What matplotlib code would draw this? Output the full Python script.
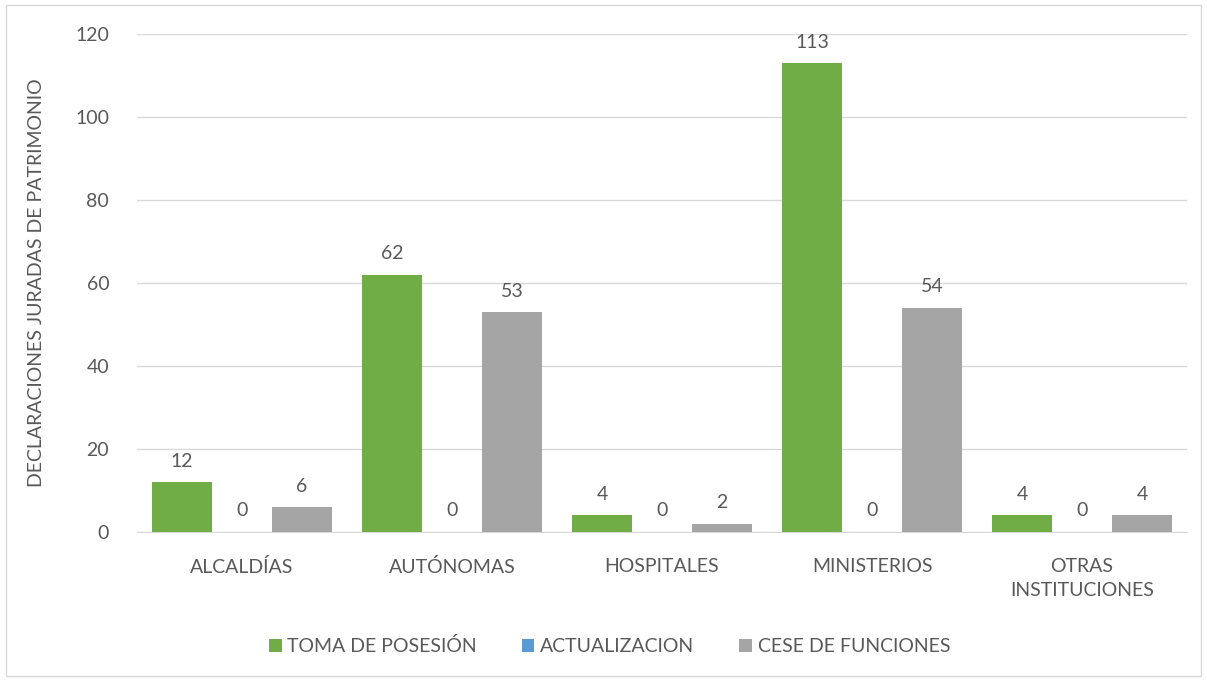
import matplotlib.pyplot as plt
import numpy as np
from matplotlib.patches import Rectangle

# Datos
categorias = ['ALCALDÍAS', 'AUTÓNOMAS', 'HOSPITALES', 'MINISTERIOS', 'OTRAS\nINSTITUCIONES']
toma_posesion = [12, 62, 4, 113, 4]
actualizacion = [0, 0, 0, 0, 0]
cese_funciones = [6, 53, 2, 54, 4]
series = ['TOMA DE POSESIÓN', 'ACTUALIZACION', 'CESE DE FUNCIONES']
colores = ['#70AD47', '#5B9BD5', '#A5A5A5']

plt.rcParams['font.family'] = ['Lato', 'DejaVu Sans']
texto = '#595959'
fs = 14

fig = plt.figure(figsize=(12.07, 6.81), dpi=100)
ax = fig.add_axes([0.1135, 0.2188, 0.87, 0.7312])

x = np.arange(len(categorias))
ancho = 0.2857
for i, (vals, nombre, c) in enumerate(zip([toma_posesion, actualizacion, cese_funciones], series, colores)):
    barras = ax.bar(x + (i - 1) * ancho, vals, ancho, color=c, label=nombre, zorder=3)
    ax.bar_label(barras, padding=9, fontsize=fs, color=texto)

ax.set_xlim(-0.5, len(categorias) - 0.5)
ax.set_ylim(0, 120)
ax.set_yticks(range(0, 121, 20))
ax.set_xticks(x)
ax.set_xticklabels(categorias, fontsize=fs, color=texto, linespacing=1.45)
ax.tick_params(axis='y', labelsize=fs, colors=texto, length=0, pad=20)
ax.tick_params(axis='x', length=0, pad=19)
ax.grid(axis='y', color='#D9D9D9', linewidth=1, zorder=0)
for s in ['top', 'right', 'left']:
    ax.spines[s].set_visible(False)
ax.spines['bottom'].set_color('#D9D9D9')
ax.set_ylabel('DECLARACIONES JURADAS DE PATRIMONIO', fontsize=fs, color=texto, labelpad=22)

fig.legend(loc='center', bbox_to_anchor=(0.505, 0.051), ncol=3, frameon=False,
           fontsize=fs, labelcolor=texto, handlelength=0.65, handleheight=0.65,
           handletextpad=0.3, columnspacing=2.3)

fig.patches.append(Rectangle((0.005, 0.007), 0.99, 0.986, transform=fig.transFigure,
                             fill=False, edgecolor='#D9D9D9', linewidth=1))

fig.savefig('out.png', dpi=100)
